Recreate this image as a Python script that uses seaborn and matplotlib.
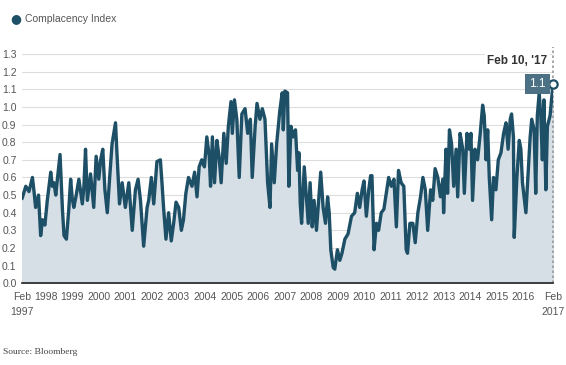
import matplotlib
matplotlib.use("Agg")
import matplotlib.pyplot as plt
import seaborn as sns
import pandas as pd

# decimal years, with index values
years = [
    1997.11, 1997.25, 1997.37, 1997.50, 1997.56, 1997.62, 1997.73, 1997.81, 1997.88, 1997.97,
    1998.06, 1998.19, 1998.25, 1998.31, 1998.38, 1998.44, 1998.54, 1998.63, 1998.69, 1998.78,
    1998.87, 1998.94, 1999.00, 1999.06, 1999.15, 1999.25, 1999.38, 1999.44, 1999.50, 1999.57,
    1999.69, 1999.81, 1999.90, 2000.00, 2000.07, 2000.15, 2000.23, 2000.32, 2000.41, 2000.50,
    2000.63, 2000.69, 2000.78, 2000.88, 2001.00, 2001.13, 2001.26, 2001.38, 2001.48, 2001.57,
    2001.69, 2001.82, 2001.88, 2001.98, 2002.07, 2002.19, 2002.32, 2002.38, 2002.44, 2002.53,
    2002.63, 2002.73, 2002.82, 2002.91, 2003.01, 2003.11, 2003.19, 2003.28, 2003.38, 2003.51,
    2003.61, 2003.70, 2003.78, 2003.88, 2003.98, 2004.07, 2004.16, 2004.21, 2004.28, 2004.36,
    2004.45, 2004.53, 2004.61, 2004.71, 2004.80, 2004.88, 2004.98, 2005.03, 2005.11, 2005.20,
    2005.29, 2005.39, 2005.51, 2005.61, 2005.71, 2005.78, 2005.89, 2005.96, 2006.07, 2006.16,
    2006.26, 2006.36, 2006.45, 2006.51, 2006.61, 2006.70, 2006.82, 2006.91, 2006.95, 2007.01,
    2007.11, 2007.16, 2007.24, 2007.32, 2007.41, 2007.49, 2007.54, 2007.59, 2007.64, 2007.74,
    2007.83, 2007.89, 2007.96, 2008.04, 2008.11, 2008.20, 2008.29, 2008.36, 2008.45, 2008.54,
    2008.62, 2008.68, 2008.74, 2008.83, 2008.89, 2008.99, 2009.08, 2009.16, 2009.27, 2009.39,
    2009.52, 2009.64, 2009.74, 2009.83, 2009.92, 2009.99, 2010.08, 2010.17, 2010.24, 2010.29,
    2010.37, 2010.46, 2010.54, 2010.64, 2010.74, 2010.83, 2010.92, 2011.02, 2011.12, 2011.21,
    2011.29, 2011.39, 2011.49, 2011.58, 2011.63, 2011.72, 2011.83, 2011.92, 2012.02, 2012.12,
    2012.21, 2012.30, 2012.39, 2012.50, 2012.58, 2012.67, 2012.77, 2012.87, 2012.96, 2012.99,
    2013.08, 2013.14, 2013.21, 2013.29, 2013.37, 2013.46, 2013.52, 2013.61, 2013.71, 2013.77,
    2013.87, 2013.96, 2014.02, 2014.08, 2014.17, 2014.27, 2014.37, 2014.46, 2014.52, 2014.59,
    2014.65, 2014.71, 2014.80, 2014.87, 2014.96, 2015.05, 2015.15, 2015.25, 2015.34, 2015.42,
    2015.50, 2015.55, 2015.62, 2015.65, 2015.75, 2015.84, 2015.90, 2015.96, 2016.02, 2016.09,
    2016.17, 2016.25, 2016.31, 2016.40, 2016.46, 2016.52, 2016.59, 2016.65, 2016.71, 2016.77,
    2016.84, 2016.90, 2017.00, 2017.11,
]
index_vals = [
    0.48, 0.55, 0.52, 0.60, 0.52, 0.43, 0.50, 0.27, 0.36, 0.33,
    0.47, 0.63, 0.55, 0.57, 0.50, 0.59, 0.73, 0.42, 0.27, 0.25,
    0.42, 0.59, 0.48, 0.43, 0.50, 0.59, 0.45, 0.55, 0.76, 0.47,
    0.62, 0.43, 0.72, 0.59, 0.70, 0.76, 0.53, 0.40, 0.60, 0.79,
    0.91, 0.72, 0.45, 0.57, 0.43, 0.57, 0.30, 0.53, 0.59, 0.47,
    0.21, 0.43, 0.47, 0.60, 0.45, 0.69, 0.70, 0.57, 0.43, 0.25,
    0.40, 0.24, 0.34, 0.46, 0.43, 0.30, 0.36, 0.51, 0.60, 0.55,
    0.63, 0.49, 0.66, 0.70, 0.66, 0.83, 0.72, 0.55, 0.83, 0.57,
    0.81, 0.72, 0.57, 0.85, 0.68, 0.89, 1.03, 0.85, 1.04, 0.93,
    0.60, 0.96, 0.99, 0.85, 0.93, 0.60, 0.89, 1.02, 0.93, 0.99,
    0.93, 0.57, 0.43, 0.79, 0.57, 0.79, 0.98, 1.08, 0.87, 1.09,
    1.08, 0.55, 0.89, 0.83, 0.87, 0.64, 0.74, 0.45, 0.34, 0.66,
    0.47, 0.34, 0.57, 0.32, 0.47, 0.30, 0.49, 0.63, 0.43, 0.34,
    0.49, 0.40, 0.19, 0.09, 0.08, 0.19, 0.13, 0.17, 0.25, 0.28,
    0.38, 0.40, 0.51, 0.43, 0.53, 0.58, 0.38, 0.53, 0.61, 0.61,
    0.19, 0.34, 0.30, 0.40, 0.42, 0.51, 0.60, 0.55, 0.59, 0.32,
    0.64, 0.57, 0.55, 0.19, 0.17, 0.34, 0.34, 0.23, 0.40, 0.49,
    0.60, 0.53, 0.30, 0.53, 0.47, 0.65, 0.60, 0.49, 0.59, 0.40,
    0.76, 0.51, 0.87, 0.79, 0.55, 0.76, 0.49, 0.85, 0.76, 0.51,
    0.85, 0.76, 0.85, 0.47, 0.76, 0.70, 0.85, 1.01, 0.95, 0.70,
    0.87, 0.60, 0.36, 0.60, 0.53, 0.70, 0.74, 0.85, 0.91, 0.76,
    0.93, 0.96, 0.83, 0.26, 0.60, 0.81, 0.76, 0.57, 0.49, 0.40,
    0.62, 0.83, 0.93, 0.87, 0.51, 0.95, 1.08, 0.95, 0.70, 1.04,
    0.53, 0.89, 0.95, 1.13,
]
year_ticks = list(range(1998, 2017))
start_label = "Feb\n1997"
end_label = "Feb\n2017"
last_label = "Feb 10, '17"
last_value_text = "1.1"

df = pd.DataFrame({"year": years, "value": index_vals})

line_c = "#1d4f66"
fill_c = "#d6dee6"
txt_c = "#555555"

sns.set_style("white")
plt.rcParams["font.family"] = ["Liberation Sans", "DejaVu Sans"]

fig = plt.figure(figsize=(5.66, 3.65), dpi=100)
ax = fig.add_axes([0.039, 0.224, 0.938, 0.628])

ax.fill_between(df["year"], df["value"], color=fill_c, zorder=1)
sns.lineplot(data=df, x="year", y="value", color=line_c, linewidth=2.4, ax=ax, zorder=3)

x0, x1 = years[0], years[-1]
ax.set_xlim(x0, x1)
ax.set_ylim(0, 1.3)
ax.set_yticks([i / 10 for i in range(14)])
ax.set_yticklabels([f"{i / 10:.1f}" for i in range(14)], color=txt_c, fontsize=7.5)
ax.yaxis.grid(True, color="#dddddd", linewidth=0.8, zorder=0)
ax.set_axisbelow(True)

ax.set_xticks([x0] + year_ticks + [x1])
ax.set_xticklabels([start_label] + [str(y) for y in year_ticks] + [end_label],
                   color=txt_c, fontsize=7.5, linespacing=1.7)
ax.set_xticks([2017], minor=True)
ax.tick_params(axis="x", which="both", direction="inout", length=6, width=1, color="#333333", pad=3)
ax.tick_params(axis="y", length=0, pad=4)
ax.set_xlabel("")
ax.set_ylabel("")
for s in ["top", "right", "left"]:
    ax.spines[s].set_visible(False)
ax.spines["bottom"].set_color("#222222")
ax.spines["bottom"].set_linewidth(1.2)

# last point marker & labels
ax.axvline(x1, ymin=0, ymax=1.03, color="#999999", linestyle=(0, (1.5, 1.5)), linewidth=1.2,
           clip_on=False, zorder=2)
ax.plot([x1], [index_vals[-1]], marker="o", markersize=6, markerfacecolor="white",
        markeredgecolor=line_c, markeredgewidth=1.6, clip_on=False, zorder=5)
ax.annotate(last_value_text, xy=(x1, index_vals[-1]), xytext=(-5, 0), textcoords="offset points",
            ha="right", va="center", color="white", fontsize=8.5,
            bbox=dict(boxstyle="square,pad=0.35", fc="#4d7184", ec="none"), zorder=6)
ax.annotate(last_label, xy=(x1, 1.3), xytext=(-4, -1), textcoords="offset points",
            ha="right", va="top", color="#333333", fontsize=8.5, fontweight="bold",
            bbox=dict(boxstyle="square,pad=0.2", fc="white", ec="none"), zorder=6)

# legend & source
fig.text(0.027, 0.948, "\u25CF", color=line_c, fontsize=9, ha="center", va="center",
         family=["DejaVu Sans"])
fig.text(0.045, 0.948, "Complacency Index", color=txt_c, fontsize=7.5, va="center")
fig.text(0.006, 0.035, "Source: Bloomberg", color="#444444", fontsize=6.8, va="center",
         family=["Liberation Serif", "DejaVu Serif"])

fig.savefig("out.png", dpi=100)
